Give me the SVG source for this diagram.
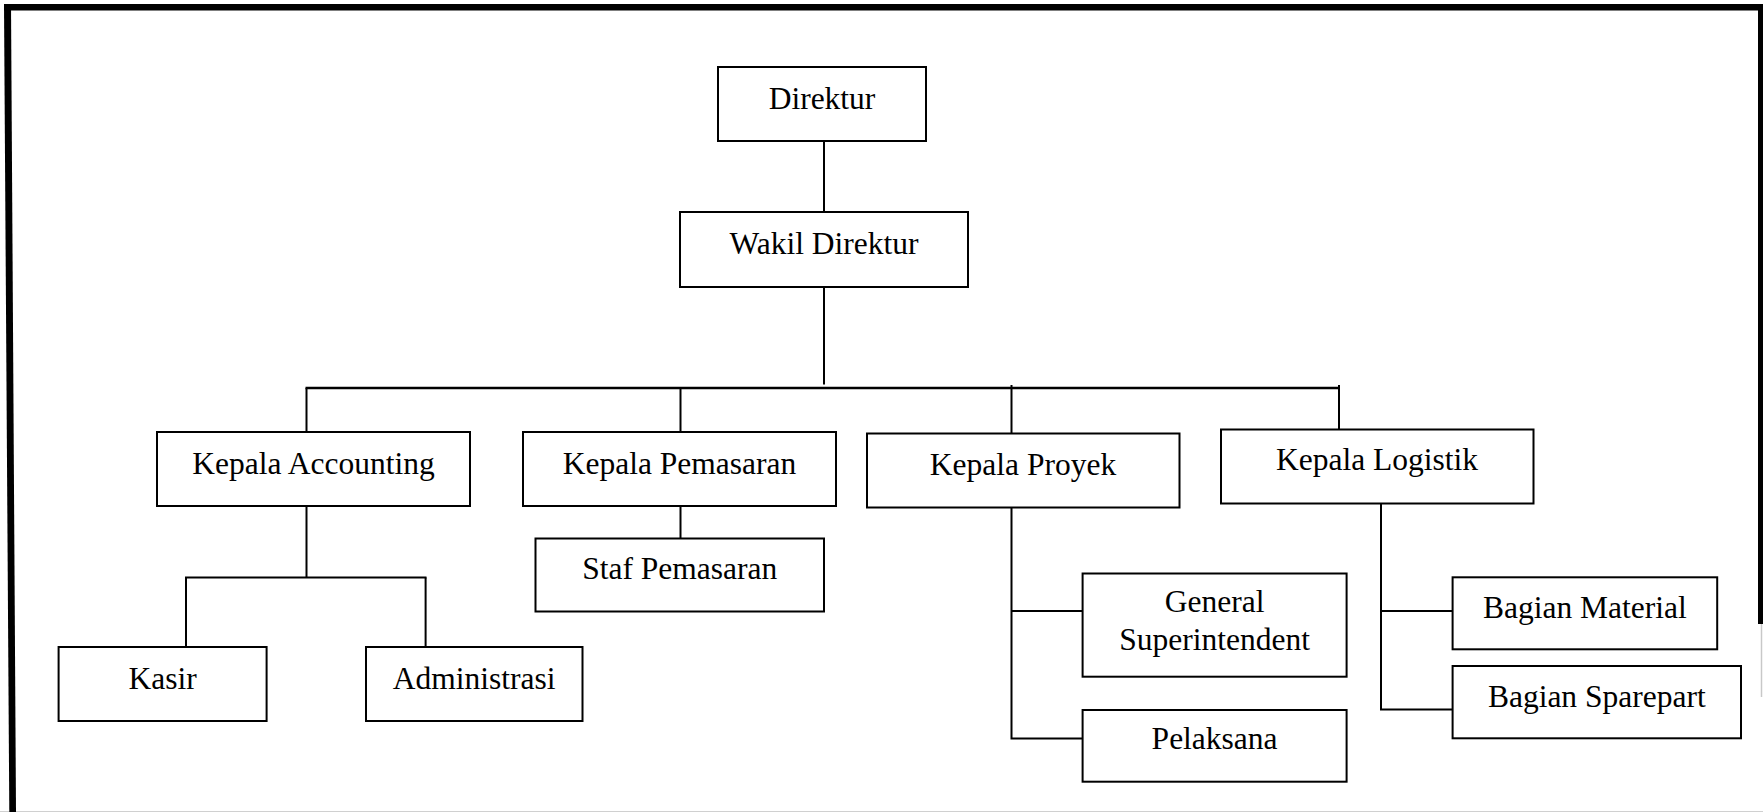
<svg xmlns="http://www.w3.org/2000/svg" width="1763" height="812" viewBox="0 0 1763 812">
  <style>
    .box { fill: #ffffff; stroke: #000000; stroke-width: 2; }
    .lbl { font-family: "Liberation Serif", "Times New Roman", serif; font-size: 31.5px; fill: #000000; text-anchor: middle; }
    .link { fill: none; stroke: #000000; stroke-width: 2; stroke-linecap: butt; }
    .bus { fill: none; stroke: #000000; stroke-width: 2.6; }
  </style>

  <rect x="0" y="0" width="1763" height="812" fill="#ffffff"/>

  <!-- page frame -->
  <g id="frame">
    <line x1="0" y1="811.5" x2="1763" y2="811.5" stroke="#d0d0d0" stroke-width="1"/>
    <line x1="1761.5" y1="620" x2="1761.5" y2="697" stroke="#c8c8c8" stroke-width="1.5"/>
    <rect x="4" y="4" width="1759" height="6.5" fill="#000000"/>
    <polygon points="4,4 11,4 16,812 9.3,812" fill="#000000"/>
    <rect x="1758" y="4" width="5" height="620" fill="#000000"/>
  </g>

  <!-- connectors -->
  <g id="connectors">
    <line class="link" x1="824" y1="141" x2="824" y2="212"/>
    <line class="link" x1="824" y1="287" x2="824" y2="384.5"/>
    <line class="bus" x1="305.5" y1="388" x2="1340" y2="388"/>
    <line class="link" x1="306.5" y1="388" x2="306.5" y2="432"/>
    <line class="link" x1="680.5" y1="388" x2="680.5" y2="432"/>
    <line class="link" x1="1011.5" y1="385" x2="1011.5" y2="433.5"/>
    <line class="link" x1="1339" y1="385" x2="1339" y2="429.5"/>

    <line class="link" x1="306.5" y1="506" x2="306.5" y2="577.5"/>
    <line class="link" x1="185" y1="577.5" x2="426.5" y2="577.5"/>
    <line class="link" x1="186" y1="577.5" x2="186" y2="647"/>
    <line class="link" x1="425.6" y1="577.5" x2="425.6" y2="647"/>

    <line class="link" x1="680.5" y1="506" x2="680.5" y2="538.5"/>

    <polyline class="link" points="1011.5,507.5 1011.5,738.5 1082.6,738.5"/>
    <line class="link" x1="1011.5" y1="611" x2="1082.6" y2="611"/>

    <polyline class="link" points="1381,503.5 1381,709.5 1452.6,709.5"/>
    <line class="link" x1="1381" y1="611" x2="1452.6" y2="611"/>
  </g>

  <g id="direktur">
    <rect class="box" x="718" y="67" width="208" height="74"/>
    <text class="lbl" x="822" y="108.5">Direktur</text>
  </g>
  <g id="wakil-direktur">
    <rect class="box" x="680" y="212" width="288" height="75"/>
    <text class="lbl" x="824" y="254">Wakil Direktur</text>
  </g>

  <g id="kepala-accounting">
    <rect class="box" x="157" y="432" width="313" height="74"/>
    <text class="lbl" x="313.5" y="474">Kepala Accounting</text>
  </g>
  <g id="kepala-pemasaran">
    <rect class="box" x="523" y="432" width="313" height="74"/>
    <text class="lbl" x="679.5" y="473.5">Kepala Pemasaran</text>
  </g>
  <g id="kepala-proyek">
    <rect class="box" x="867" y="433.5" width="312.5" height="74"/>
    <text class="lbl" x="1023" y="475">Kepala Proyek</text>
  </g>
  <g id="kepala-logistik">
    <rect class="box" x="1221" y="429.5" width="312.5" height="74"/>
    <text class="lbl" x="1377" y="470">Kepala Logistik</text>
  </g>

  <g id="kasir">
    <rect class="box" x="58.6" y="647" width="208" height="74"/>
    <text class="lbl" x="162.6" y="688.5">Kasir</text>
  </g>
  <g id="administrasi">
    <rect class="box" x="366" y="647" width="216.5" height="74"/>
    <text class="lbl" x="474.2" y="688.5">Administrasi</text>
  </g>

  <g id="staf-pemasaran">
    <rect class="box" x="535.5" y="538.5" width="288.5" height="73"/>
    <text class="lbl" x="679.7" y="579">Staf Pemasaran</text>
  </g>

  <g id="general-superintendent">
    <rect class="box" x="1082.6" y="573.5" width="264" height="103.2"/>
    <text class="lbl" x="1214.6" y="612.3">General</text>
    <text class="lbl" x="1214.6" y="650">Superintendent</text>
  </g>
  <g id="pelaksana">
    <rect class="box" x="1082.6" y="710" width="264" height="71.7"/>
    <text class="lbl" x="1214.6" y="749">Pelaksana</text>
  </g>

  <g id="bagian-material">
    <rect class="box" x="1452.6" y="577.3" width="264.6" height="72"/>
    <text class="lbl" x="1584.9" y="618.3">Bagian Material</text>
  </g>
  <g id="bagian-sparepart">
    <rect class="box" x="1452.6" y="666" width="288.4" height="72.3"/>
    <text class="lbl" x="1596.8" y="706.7">Bagian Sparepart</text>
  </g>
</svg>
